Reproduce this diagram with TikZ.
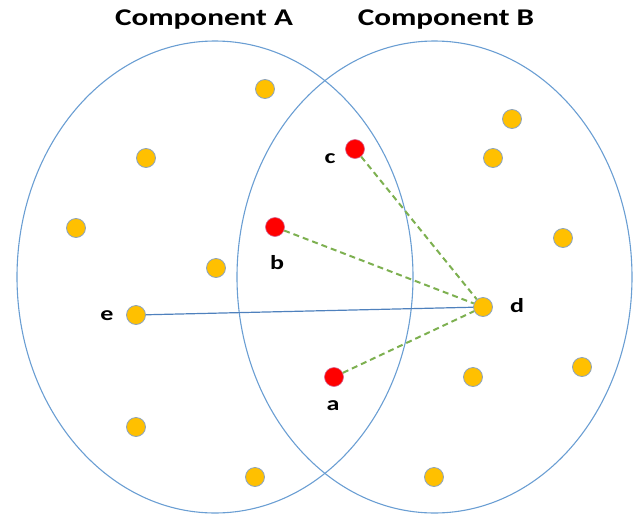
\documentclass[tikz,border=0pt]{standalone}
\usepackage{fontspec}
\newfontfamily\calfont{Carlito}
\usepackage{xcolor}
\definecolor{ringblue}{HTML}{6A9ED3}
\definecolor{edgeblue}{HTML}{4F81BD}
\definecolor{dotgold}{HTML}{FFC000}
\definecolor{dotrim}{HTML}{8EA4BC}
\definecolor{dashgreen}{HTML}{7DB050}
\usepackage{tikz}

\tikzset{
	ring/.style={draw=ringblue,line width=1.1pt},
	ydot/.style={circle,fill=dotgold,draw=dotrim,line width=0.8pt,minimum size=19pt,inner sep=0pt},
	rdot/.style={circle,fill=red,draw=red!70!blue!60,line width=0.6pt,minimum size=19pt,inner sep=0pt},
	lbl/.style={font=\calfont\bfseries\fontsize{20}{24}\selectfont,inner sep=0pt,xscale=1.3},
	ttl/.style={font=\calfont\bfseries\fontsize{24}{28}\selectfont,inner sep=0pt,xscale=1.3},
	link/.style={dashgreen,dashed,line width=2pt,dash pattern=on 6pt off 4pt},
	edge/.style={edgeblue,line width=1.2pt}
}

\begin{document}
\begin{tikzpicture}[x=1pt,y=-1pt]
		\useasboundingbox (0,0) rectangle (641,520);
		\draw[ring] (215,277) ellipse [x radius=198,y radius=236];
		\draw[ring] (434.5,277) ellipse [x radius=197.5,y radius=236];
		\node[ttl] (ta) at (204,20) {Component A};
		\node[ttl] (tb) at (446,20) {Component B};
		\foreach \x/\y [count=\i] in {265/89,146/158,76/228,216/268,136/427,255/477,512/119,493/158,563/238,473/377,582/367,434/477}
		{
		\node[ydot] (y\i) at (\x,\y) {};
		}
		\node[ydot] (e) at (136,315) {};
		\node[ydot] (d) at (483,307) {};
		\node[rdot] (a) at (334,377) {};
		\node[rdot] (b) at (275,227) {};
		\node[rdot] (c) at (355,149) {};
		\draw[link] (c) to (d);
		\draw[link] (b) to (d);
		\draw[link] (a) to (d);
		\draw[edge] (e) to (d);
		\node[lbl] (la) at (333,406) {a};
		\node[lbl] (lb) at (277,263) {b};
		\node[lbl] (lc) at (330,159) {c};
		\node[lbl] (ld) at (517,306) {d};
		\node[lbl] (le) at (107,316) {e};
	\end{tikzpicture}
\end{document}
